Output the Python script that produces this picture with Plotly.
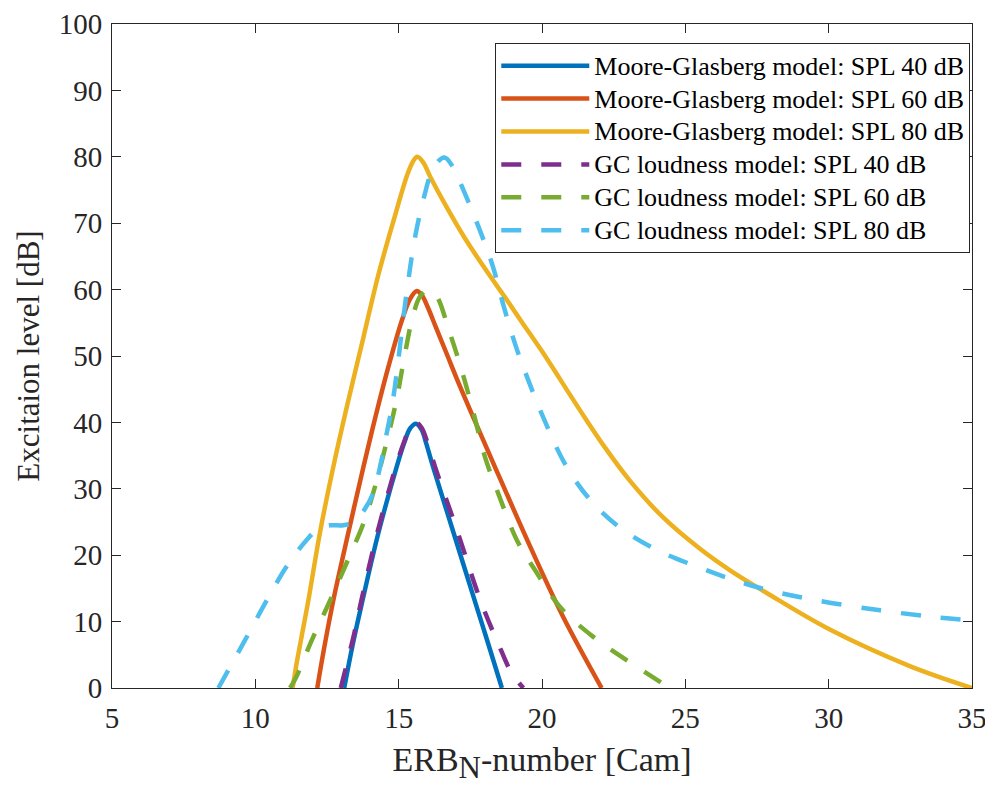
import plotly.graph_objects as go

# Moore-Glasberg model excitation patterns (ERB_N-number [Cam], excitation level [dB])
mg40_x = [13.1, 13.4, 13.74, 14.29, 14.93, 15.2, 15.4, 15.6, 15.8, 15.95, 16.2, 16.92, 17.65, 18.1, 18.6]
mg40_y = [0, 6.6, 13.2, 23.3, 33.3, 37.0, 39.1, 39.8, 38.9, 37.0, 33.3, 23.3, 13.2, 7.0, 0]

mg60_x = [12.16, 12.4, 12.72, 13.24, 13.77, 14.2, 14.65, 15.1, 15.4, 15.63, 15.82, 16.02, 16.3, 16.65, 17.15,
          17.65, 18.53, 19.64, 20.74, 22.08]
mg60_y = [0, 6.0, 13.2, 23.3, 33.3, 41.0, 48.5, 55.2, 58.6, 59.8, 59.1, 57.3, 54.3, 50.6, 45.3,
          40.3, 31.6, 20.8, 10.7, 0]

mg80_x = [11.3, 11.46, 11.85, 12.25, 12.72, 13.2, 13.77, 14.29, 14.85, 15.3, 15.5, 15.65, 15.85, 16.1, 16.65,
          17.3, 18.1, 18.7, 19.3, 20.0, 21.3, 22.2, 23.07, 24.2, 25.5, 26.6, 27.84, 30.04, 32.83, 35.0]
mg80_y = [0, 4.2, 13.2, 23.3, 33.3, 42.5, 52.8, 62.2, 70.8, 77.3, 79.3, 80.0, 79.2, 77.0, 72.6,
          67.8, 62.6, 58.9, 55.1, 50.7, 42.0, 36.2, 31.2, 25.8, 21.0, 17.6, 14.3, 8.8, 3.3, 0]

# GC loudness model excitation patterns
gc40_x = [12.98, 13.45, 13.7, 14.25, 14.9, 15.2, 15.4, 15.6, 15.8, 16.0, 16.27, 17.07, 17.85, 18.57, 18.95, 19.35]
gc40_y = [0, 8.2, 13.2, 23.3, 33.3, 37.2, 39.2, 40.0, 39.2, 37.0, 33.3, 23.3, 13.2, 5.7, 2.2, 0]

gc60_x = [11.21, 11.41, 11.97, 12.6, 13.19, 13.77, 14.14, 14.64, 14.93, 15.18, 15.49, 15.75, 16.03, 16.3, 16.79,
          17.23, 17.63, 18.01, 18.5, 19.12, 19.75, 20.63, 21.79, 22.95, 24.46]
gc60_y = [0, 1.5, 7.2, 13.1, 18.9, 24.8, 29.8, 38.1, 43.5, 49.4, 55.9, 59.0, 60.0, 59.2, 53.4,
          47.4, 41.1, 34.8, 29.0, 22.3, 17.8, 12.2, 7.7, 4.2, 0]

gc80_x = [8.71, 9.64, 10.4, 11.09, 11.79, 12.2, 12.6, 13.07, 13.45, 13.75, 14.11, 14.35, 14.58, 14.77, 14.96,
          15.14, 15.35, 15.55, 15.87, 16.23, 16.6, 16.9, 17.22, 17.79, 18.27, 18.67, 19.1, 19.5, 20.04, 20.86,
          21.79, 22.83, 24.0, 25.39, 26.67, 27.84, 29.58, 31.79, 33.65, 35.0]
gc80_y = [0, 7.2, 13.2, 18.3, 22.3, 24.0, 24.5, 24.5, 25.0, 26.5, 29.3, 33.3, 38.3, 42.5, 48.4,
          54.9, 61.8, 67.4, 73.7, 78.5, 79.9, 78.4, 75.4, 69.4, 63.7, 57.4, 51.3, 46.6, 40.8, 33.3,
          27.8, 23.8, 20.8, 18.3, 16.3, 14.8, 13.2, 11.7, 10.7, 10.2]

x_ticks = [5, 10, 15, 20, 25, 30, 35]
y_ticks = [0, 10, 20, 30, 40, 50, 60, 70, 80, 90, 100]

names = [
    "Moore-Glasberg model: SPL 40 dB",
    "Moore-Glasberg model: SPL 60 dB",
    "Moore-Glasberg model: SPL 80 dB",
    "GC loudness model: SPL 40 dB",
    "GC loudness model: SPL 60 dB",
    "GC loudness model: SPL 80 dB",
]
colors = ["#0072BD", "#D95319", "#EDB120", "#7E2F8E", "#77AC30", "#4DBEEE"]
series = [(mg40_x, mg40_y), (mg60_x, mg60_y), (mg80_x, mg80_y),
          (gc40_x, gc40_y), (gc60_x, gc60_y), (gc80_x, gc80_y)]

fig = go.Figure()
for i, ((xs, ys), nm, col) in enumerate(zip(series, names, colors)):
    fig.add_trace(go.Scatter(
        x=xs, y=ys, mode="lines",
        name="<span style='font-size:26px'>" + nm + "</span>",
        line=dict(color=col, width=4.5, shape="spline", smoothing=1.0,
                  dash="solid" if i < 3 else "20px,20px"),
    ))

axis_common = dict(
    showline=True, linecolor="#262626", linewidth=1, mirror="ticks",
    ticks="inside", ticklen=9, tickcolor="#262626", tickwidth=1,
    showgrid=False, zeroline=False, automargin=False,
    tickfont=dict(family="Liberation Serif", size=29, color="#262626"),
)

fig.update_layout(
    width=985, height=786,
    margin=dict(l=104, r=21, t=16, b=106),
    paper_bgcolor="white", plot_bgcolor="white",
    font=dict(family="Liberation Serif", color="#262626"),
    xaxis=dict(range=[5, 35], tickvals=x_ticks, ticklabelstandoff=4,
               title=dict(text="ERB<sub><span style='font-size:31px'>N</span></sub>-number [Cam]",
                          font=dict(family="Liberation Serif", size=34), standoff=14),
               **axis_common),
    yaxis=dict(range=[0, 100], tickvals=y_ticks, ticklabelstandoff=3,
               title=dict(text="Excitaion level [dB]",
                          font=dict(family="Liberation Serif", size=31), standoff=9),
               **axis_common),
    legend=dict(x=0.998, y=0.971, xanchor="right", yanchor="top",
                bgcolor="white", bordercolor="#262626", borderwidth=1,
                font=dict(family="Liberation Serif", size=23, color="black"),
                itemwidth=88, tracegroupgap=0),
    showlegend=True,
)

fig.write_html("out.html")
